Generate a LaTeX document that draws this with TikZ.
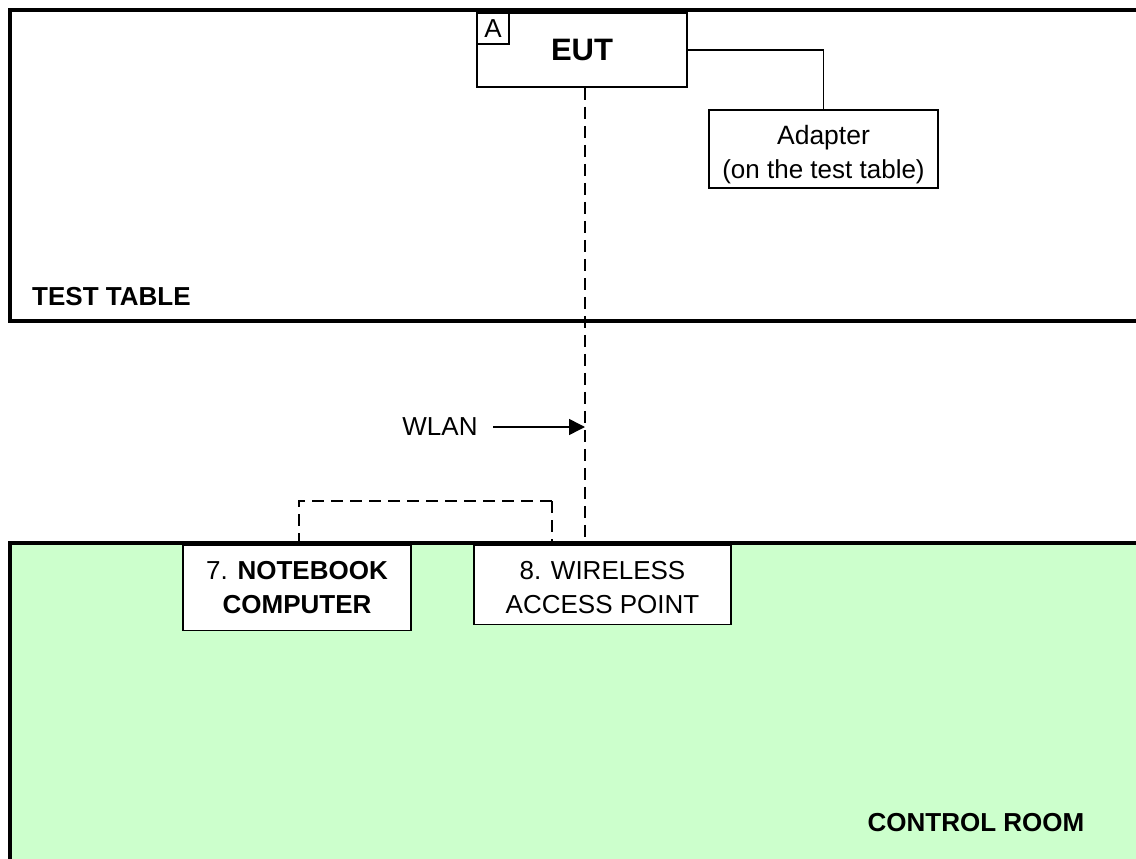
\documentclass[tikz,border=0pt]{standalone}
\usepackage{fontspec}
\setmainfont{Liberation Sans}
\usetikzlibrary{arrows.meta}

\definecolor{roomgreen}{RGB}{204,255,204}
\def\labelfont{\fontsize{26}{34}\selectfont}

\begin{document}
\begin{tikzpicture}[x=1pt, y=-1pt,
  unit/.style = {draw, line width=1.5pt, fill=white, align=center, inner sep=0pt, font=\labelfont},
  wall/.style = {line width=4pt},
  cable/.style = {line width=1.5pt},
  radio/.style = {line width=1.6pt, dash pattern=on 12pt off 7pt}]
\useasboundingbox (0,0) rectangle (1136,859);
\clip (0,0) rectangle (1136,859);

% rooms
\fill [roomgreen] (10,543) rectangle (1160,880);
\draw [wall] (1160,543) -- (10,543) -- (10,880); % control room
\draw [wall] (1160,10) -- (10,10) -- (10,321) -- (1160,321); % test table

\node [font=\labelfont\bfseries, anchor=west, inner sep=0pt] (table) at (32,297) {TEST TABLE};
\node [font=\labelfont\bfseries] (room) at (976,823) {CONTROL ROOM};

% equipment on the table
\node [unit, minimum width=210pt, minimum height=74pt] (eut) at (582,50)
  {\fontsize{31}{36}\selectfont\bfseries EUT};
\node [unit, minimum width=32pt, minimum height=31pt, anchor=north west] (tag) at (eut.north west) {A};
\node [unit, minimum width=229pt, minimum height=78pt] (adapter) at (823.5,149)
  {\fontsize{26.5}{31}\selectfont\rule{0pt}{30pt}Adapter\\(on the test table)};
\draw [cable] (eut.east) -| (adapter.north); % eut to adapter

% equipment in the control room
\node [unit, minimum width=228pt, minimum height=85pt] (notebook) at (297,588)
  {7. \textbf{NOTEBOOK}\\\textbf{COMPUTER}};
\node [unit, minimum width=257pt, minimum height=79pt] (ap) at (602.5,585)
  {\fontsize{26}{32}\selectfont\rule{0pt}{24pt}8. WIRELESS\\ACCESS POINT};

% wireless link
\coordinate (wlan) at (585,543);
\draw [radio] (eut.south -| wlan) -- (wlan);
\node [font=\labelfont] (wlanlbl) at (440,427) {WLAN};
\draw [cable, -{Triangle[length=16pt, width=16pt]}] (wlanlbl.east) ++(12,0) -- (wlanlbl -| wlan);

% notebook to access point
\coordinate (apin) at (552,543);
\coordinate (bend) at (552,501);
\draw [radio] (notebook.north -| 299,0) |- (bend);
\draw [radio, line width=2.6pt] (bend) -- (apin);
\end{tikzpicture}
\end{document}
